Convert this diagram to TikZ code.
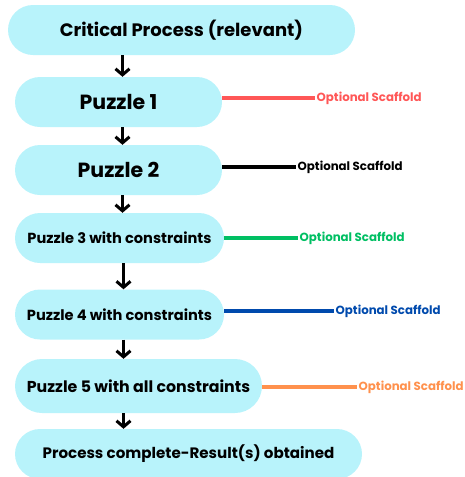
\documentclass[tikz,border=0pt]{standalone}
\usepackage{fontspec}
\setmainfont{Poppins}
\usetikzlibrary{arrows.meta}
\definecolor{stagefill}{HTML}{B8F3FB}
\definecolor{scafred}{HTML}{FF5757}
\definecolor{scafgreen}{HTML}{00BF63}
\definecolor{scafblue}{HTML}{004AAD}
\definecolor{scaforange}{HTML}{FF914D}

\begin{document}
\begin{tikzpicture}[x=1pt,y=-1pt,
	stage/.style={fill=stagefill,rounded corners=25pt,minimum height=50pt,inner sep=0pt},
	flow/.style={line width=3pt,-{Straight Barb[length=6pt,width=14pt,line width=3pt]}},
	scaf/.style={line width=3.2pt},
	scaftext/.style={anchor=west,inner sep=1.5pt,font=\bfseries\fontsize{11.8}{13}\selectfont}]
	\useasboundingbox (0,0) rectangle (464,477);
	% process stages
	\node[stage,minimum width=347pt,font=\bfseries\fontsize{18}{21}\selectfont] (b0) at (181.5,30) {Critical Process (relevant)};
	\node[stage,minimum width=207pt,font=\bfseries\fontsize{20.5}{24}\selectfont] (b1) at (118.5,102) {Puzzle 1};
	\node[stage,minimum width=207pt,font=\bfseries\fontsize{20.5}{24}\selectfont] (b2) at (118.5,170) {Puzzle 2};
	\node[stage,minimum width=209pt,font=\bfseries\fontsize{14.6}{17}\selectfont] (b3) at (119.5,238) {Puzzle 3 with constraints};
	\node[stage,minimum width=209pt,font=\bfseries\fontsize{14.6}{17}\selectfont] (b4) at (119.5,314.5) {Puzzle 4 with constraints};
	\node[stage,minimum width=247pt,minimum height=54pt,rounded corners=27pt,font=\bfseries\fontsize{15.8}{18}\selectfont] (b5) at (138.5,386) {Puzzle 5 with all constraints};
	\node[stage,minimum width=347pt,font=\bfseries\fontsize{15.1}{18}\selectfont] (b6) at (188.5,454) {Process complete-Result(s) obtained};
	% arrows down the chain
	\draw[flow] ([xshift=4pt]b0.south -| b1) -- ([xshift=4pt]b1.north);
	\foreach \i/\j in {1/2,2/3,3/4,4/5}{
		\draw[flow] ([xshift=4pt]b\i.south) -- ([xshift=4pt]b\j.north -| b\i);
	}
	\draw[flow] ([xshift=4pt]b5.south -| b4) -- ([xshift=4pt]b4 |- b6.north);
	% optional scaffolds
	\node[scaftext,text=scafred] (s1) at (315,98) {Optional Scaffold};
	\node[scaftext,text=black] (s2) at (296,167) {Optional Scaffold};
	\node[scaftext,text=scafgreen] (s3) at (298,238) {Optional Scaffold};
	\node[scaftext,text=scafblue] (s4) at (334,311) {Optional Scaffold};
	\node[scaftext,text=scaforange] (s5) at (357,387) {Optional Scaffold};
	\draw[scaf,scafred] (b1.east |- s1.west) -- (s1.west);
	\draw[scaf,black] (b2.east |- s2.west) -- (s2.west);
	\draw[scaf,scafgreen] (b3.east |- s3.west) -- (s3.west);
	\draw[scaf,scafblue] (b4.east |- s4.west) -- (s4.west);
	\draw[scaf,scaforange] (b5.east |- s5.west) -- (s5.west);
\end{tikzpicture}
\end{document}
